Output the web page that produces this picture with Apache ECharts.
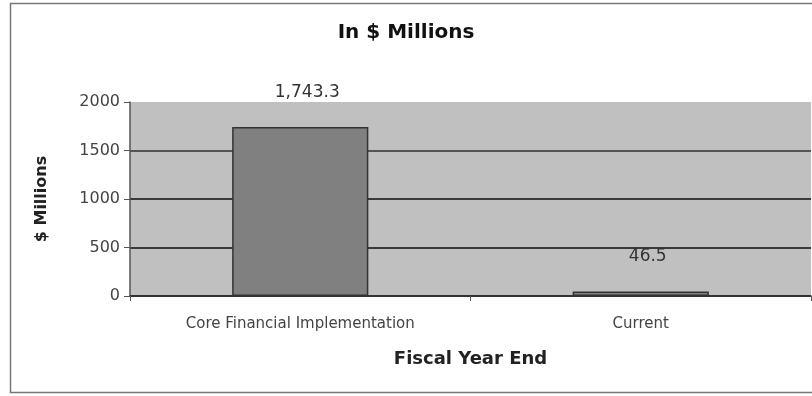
<!DOCTYPE html>
<html>
<head>
<meta charset="utf-8">
<script src="https://cdn.jsdelivr.net/npm/echarts@6/dist/echarts.min.js"></script>
<style>
  html, body { margin: 0; padding: 0; background: #ffffff; }
  #chart { width: 812px; height: 396px; }
</style>
</head>
<body>
<div id="chart"></div>
<script>
// Spending by phase, in $ millions
const categories = ['Core Financial Implementation', 'Current'];
const values = [1743.3, 46.5];
const valueLabels = ['1,743.3', '46.5'];
const yTicks = [0, 500, 1000, 1500, 2000];

const chart = echarts.init(document.getElementById('chart'), null, { renderer: 'canvas' });

const font = 'DejaVu Sans, Arial, sans-serif';

chart.setOption({
  animation: false,
  backgroundColor: '#ffffff',
  title: {
    text: 'In $ Millions',
    left: 'center',
    top: 18,
    textStyle: { fontFamily: font, fontWeight: 'bold', fontSize: 20, color: '#111' }
  },
  graphic: [{
    type: 'rect',
    shape: { x: 10.5, y: 3.5, width: 830, height: 389 },
    style: { fill: 'none', stroke: '#777', lineWidth: 1.5 },
    silent: true,
    z: -1
  }],
  grid: {
    left: 130, right: 1, top: 102, bottom: 100,
    show: true,
    backgroundColor: '#c0c0c0',
    borderWidth: 0
  },
  xAxis: {
    type: 'category',
    data: categories,
    name: 'Fiscal Year End',
    nameLocation: 'middle',
    nameGap: 54,
    nameTextStyle: { fontFamily: font, fontWeight: 'bold', fontSize: 18, color: '#222' },
    axisLine: { lineStyle: { color: '#333', width: 1.5 } },
    axisTick: { show: true, length: 5, lineStyle: { color: '#555' } },
    axisLabel: { fontFamily: font, fontSize: 15, color: '#444', margin: 21 }
  },
  yAxis: {
    type: 'value',
    min: yTicks[0],
    max: yTicks[yTicks.length - 1],
    interval: yTicks[1] - yTicks[0],
    name: '$ Millions',
    nameLocation: 'middle',
    nameGap: 80,
    nameRotate: 90,
    nameTextStyle: { fontFamily: font, fontWeight: 'bold', fontSize: 16, color: '#222' },
    axisLine: { show: true, lineStyle: { color: '#555', width: 1.5 } },
    axisTick: { show: true, length: 6, lineStyle: { color: '#555' } },
    axisLabel: {
      fontFamily: font, fontSize: 16, color: '#444', margin: 10,
      formatter: v => String(v)
    },
    splitLine: {
      show: true,
      lineStyle: { color: ['#333', '#3a3a3a', '#3a3a3a', '#555', 'rgba(0,0,0,0)'], width: 2 }
    }
  },
  series: [{
    type: 'bar',
    data: values,
    barWidth: '40%',
    itemStyle: { color: '#808080', borderColor: '#333', borderWidth: 1.5 },
    label: {
      show: true,
      position: 'top',
      distance: 26,
      offset: [7, 0],
      fontFamily: font,
      fontSize: 17,
      color: '#333',
      formatter: p => valueLabels[p.dataIndex]
    }
  }]
});
</script>
</body>
</html>
